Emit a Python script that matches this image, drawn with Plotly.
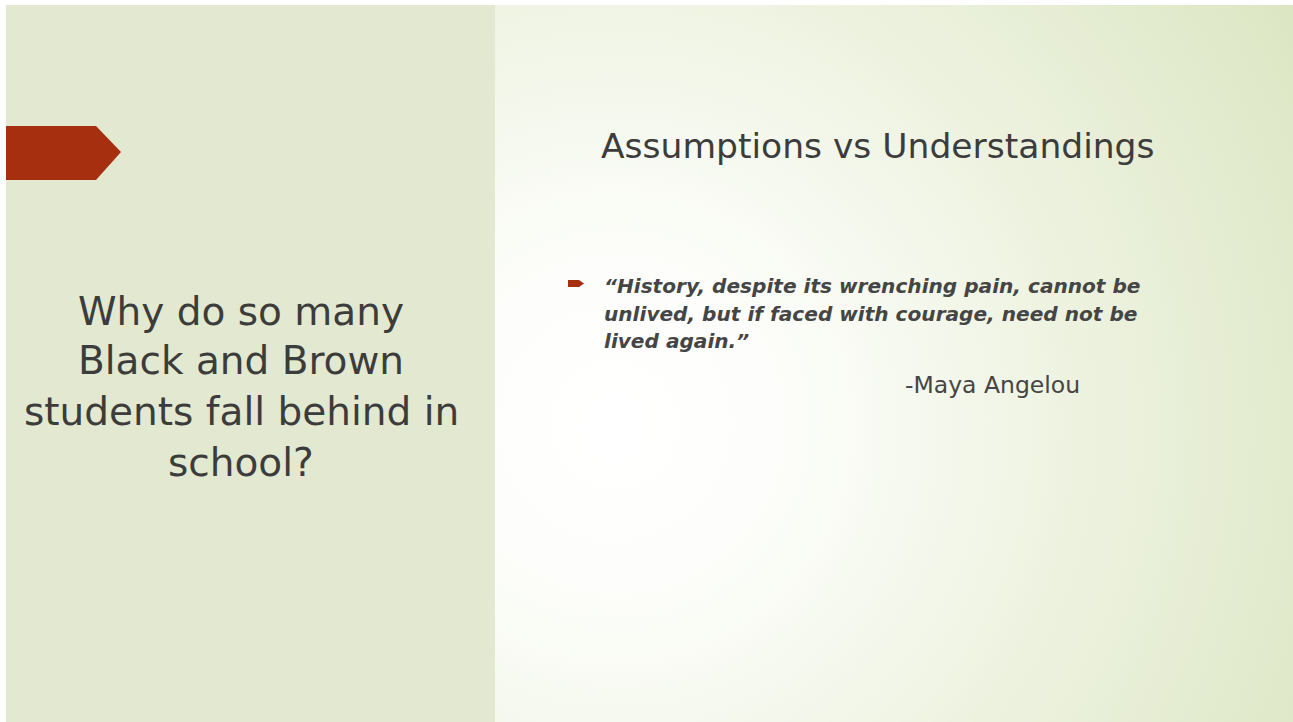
import base64
import plotly.graph_objects as go

W, H = 1293, 722

# ---- content ----
left_lines = ["Why do so many", "Black and Brown", "students fall behind in", "school?"]
title_text = "Assumptions vs Understandings"
quote_lines = ["\u201cHistory, despite its wrenching pain, cannot be",
               "unlived, but if faced with courage, need not be",
               "lived again.\u201d"]
attribution = "-Maya Angelou"

# ---- styles ----
left_bg = "#E3E9D0"
accent = "#A62F10"
text_col = "#3C3C3C"
quote_col = "#454545"
FONT = "DejaVu Sans"

fig = go.Figure()
fig.add_trace(go.Scatter(x=[0], y=[0], mode="markers", marker=dict(opacity=0),
                         hoverinfo="skip", showlegend=False))

# right panel gradient as SVG image
rw, rh = W - 495, H - 5
svg = f'''<svg xmlns="http://www.w3.org/2000/svg" width="{rw}" height="{rh}" viewBox="0 0 {rw} {rh}" preserveAspectRatio="none">
<defs><radialGradient id="g" gradientUnits="userSpaceOnUse" cx="120" cy="420" r="820">
<stop offset="0" stop-color="#FFFFFF"/>
<stop offset="0.2" stop-color="#FDFEFB"/>
<stop offset="0.55" stop-color="#EEF3E1"/>
<stop offset="1" stop-color="#DBE5C1"/>
</radialGradient></defs>
<rect x="0" y="0" width="{rw}" height="{rh}" fill="url(#g)"/></svg>'''
src = "data:image/svg+xml;base64," + base64.b64encode(svg.encode()).decode()

fig.add_layout_image(dict(source=src, xref="paper", yref="paper",
                          x=495 / W, y=1 - 5 / H, sizex=rw / W, sizey=rh / H,
                          xanchor="left", yanchor="top", sizing="stretch",
                          layer="below"))

shapes = []
# left panel
shapes.append(dict(type="rect", x0=6, x1=495, y0=5, y1=H, fillcolor=left_bg,
                   line=dict(width=0), layer="below"))
# big arrow
shapes.append(dict(type="path", path="M 6 126 L 96 126 L 121 152 L 96 180 L 6 180 Z",
                   fillcolor=accent, line=dict(width=0)))
# bullet
shapes.append(dict(type="path", path="M 568 280 L 579 280 L 584 283.5 L 579 287 L 568 287 Z",
                   fillcolor=accent, line=dict(width=0)))

ann = []
left_y = [311, 360, 411, 462]
for t, y in zip(left_lines, left_y):
    ann.append(dict(text=t, x=241, y=y, xref="x", yref="y", showarrow=False,
                    xanchor="center", yanchor="middle",
                    font=dict(family=FONT, size=39, color=text_col)))

ann.append(dict(text=title_text, x=877, y=146, xref="x", yref="y", showarrow=False,
                xanchor="center", yanchor="middle",
                font=dict(family=FONT, size=34.5, color=text_col)))

quote_y = [286, 314, 341]
for t, y in zip(quote_lines, quote_y):
    ann.append(dict(text=f"<b><i>{t}</i></b>", x=602, y=y, xref="x", yref="y",
                    showarrow=False, xanchor="left", yanchor="middle",
                    font=dict(family=FONT, size=20.1, color=quote_col)))

ann.append(dict(text=attribution, x=903, y=385, xref="x", yref="y", showarrow=False,
                xanchor="left", yanchor="middle",
                font=dict(family=FONT, size=23.5, color=quote_col)))

fig.update_layout(
    width=W, height=H, margin=dict(l=0, r=0, t=0, b=0),
    paper_bgcolor="white", plot_bgcolor="rgba(0,0,0,0)",
    xaxis=dict(range=[0, W], visible=False, fixedrange=True),
    yaxis=dict(range=[H, 0], visible=False, fixedrange=True),
    shapes=shapes, annotations=ann, showlegend=False,
)

fig.write_html("out.html", config={"displayModeBar": False},
               post_script="document.body.style.margin='0';document.body.style.overflow='hidden';")
